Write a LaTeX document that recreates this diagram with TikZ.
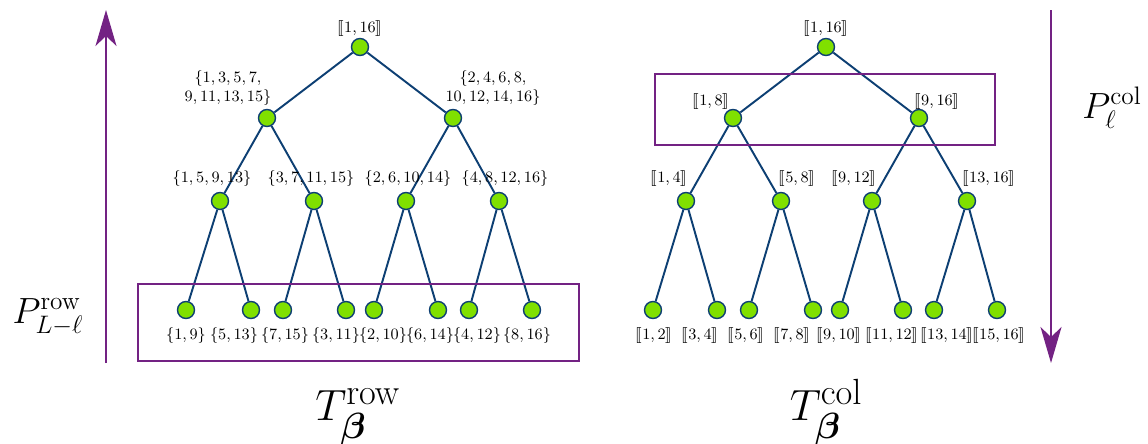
\documentclass[tikz,border=0pt]{standalone}
\usepackage{amsmath,amssymb}
\usepackage{stmaryrd}
\usepackage{tikz}
\usetikzlibrary{arrows.meta}
\usepackage{xcolor}
\definecolor{leafgreen}{RGB}{128, 224, 0}
\definecolor{edgeblue}{RGB}{13, 63, 115}
\definecolor{boxpurple}{RGB}{115, 34, 131}

\tikzset{
  vertex/.style={circle, fill=leafgreen, draw=edgeblue, line width=0.8pt,
    inner sep=0pt, minimum size=0.34cm},
  branch/.style={edgeblue, line width=1.1pt},
  setlbl/.style={font=\small, inner sep=0pt, anchor=base},
  levelbox/.style={boxpurple, line width=1.1pt},
  levelarrow/.style={boxpurple, line width=1.1pt,
    -{Stealth[length=0.72cm, width=0.42cm, inset=0.2cm]}},
}

\begin{document}
\begin{tikzpicture}[x=0.02cm, y=-0.02cm]
    \useasboundingbox (0,0) rectangle (1148,443);

    % row tree
    \node[vertex] (L0) at (360,47) {};
    \node[vertex] (L1a) at (267,118) {};
    \node[vertex] (L1b) at (453,118) {};
    \node[vertex] (L2a) at (220,201) {};
    \node[vertex] (L2b) at (314,201) {};
    \node[vertex] (L2c) at (406,201) {};
    \node[vertex] (L2d) at (499,201) {};
    \node[vertex] (L3a) at (186,310) {};
    \node[vertex] (L3b) at (251,310) {};
    \node[vertex] (L3c) at (283,310) {};
    \node[vertex] (L3d) at (346,310) {};
    \node[vertex] (L3e) at (374,310) {};
    \node[vertex] (L3f) at (438,310) {};
    \node[vertex] (L3g) at (469,310) {};
    \node[vertex] (L3h) at (532,310) {};
    \draw[branch] (L0) -- (L1a) (L0) -- (L1b)
      (L1a) -- (L2a) (L1a) -- (L2b) (L1b) -- (L2c) (L1b) -- (L2d)
      (L2a) -- (L3a) (L2a) -- (L3b) (L2b) -- (L3c) (L2b) -- (L3d)
      (L2c) -- (L3e) (L2c) -- (L3f) (L2d) -- (L3g) (L2d) -- (L3h);

    \node[setlbl] (tL0) at (360,32) {$\llbracket 1,16\rrbracket$};
    \node[font=\small, inner sep=0pt, align=center] (tL1a) at (228,88) {$\{1,3,5,7,$\\$9,11,13,15\}$};
    \node[font=\small, inner sep=0pt, align=center] (tL1b) at (493,88) {$\{2,4,6,8,$\\$10,12,14,16\}$};
    \node[setlbl] (tL2a) at (212,182) {$\{1,5,9,13\}$};
    \node[setlbl] (tL2b) at (311,182) {$\{3,7,11,15\}$};
    \node[setlbl] (tL2c) at (408,182) {$\{2,6,10,14\}$};
    \node[setlbl] (tL2d) at (505,182) {$\{4,8,12,16\}$};
    \node[setlbl] (tL3a) at (186,339) {$\{1,9\}$};
    \node[setlbl] (tL3b) at (234,339) {$\{5,13\}$};
    \node[setlbl] (tL3c) at (285,339) {$\{7,15\}$};
    \node[setlbl] (tL3d) at (336,339) {$\{3,11\}$};
    \node[setlbl] (tL3e) at (383,339) {$\{2,10\}$};
    \node[setlbl] (tL3f) at (430,339) {$\{6,14\}$};
    \node[setlbl] (tL3g) at (477,339) {$\{4,12\}$};
    \node[setlbl] (tL3h) at (527,339) {$\{8,16\}$};

    % column tree
    \node[vertex] (R0) at (826,47) {};
    \node[vertex] (R1a) at (733,118) {};
    \node[vertex] (R1b) at (919,118) {};
    \node[vertex] (R2a) at (686,201) {};
    \node[vertex] (R2b) at (781,201) {};
    \node[vertex] (R2c) at (872,201) {};
    \node[vertex] (R2d) at (967,201) {};
    \node[vertex] (R3a) at (653,310) {};
    \node[vertex] (R3b) at (717,310) {};
    \node[vertex] (R3c) at (749,310) {};
    \node[vertex] (R3d) at (813,310) {};
    \node[vertex] (R3e) at (840,310) {};
    \node[vertex] (R3f) at (903,310) {};
    \node[vertex] (R3g) at (934,310) {};
    \node[vertex] (R3h) at (997,310) {};
    \draw[branch] (R0) -- (R1a) (R0) -- (R1b)
      (R1a) -- (R2a) (R1a) -- (R2b) (R1b) -- (R2c) (R1b) -- (R2d)
      (R2a) -- (R3a) (R2a) -- (R3b) (R2b) -- (R3c) (R2b) -- (R3d)
      (R2c) -- (R3e) (R2c) -- (R3f) (R2d) -- (R3g) (R2d) -- (R3h);

    \node[setlbl] (tR0) at (826,32) {$\llbracket 1,16\rrbracket$};
    \node[setlbl] (tR1a) at (711,105) {$\llbracket 1,8\rrbracket$};
    \node[setlbl] (tR1b) at (937,105) {$\llbracket 9,16\rrbracket$};
    \node[setlbl] (tR2a) at (669,182) {$\llbracket 1,4\rrbracket$};
    \node[setlbl] (tR2b) at (797,182) {$\llbracket 5,8\rrbracket$};
    \node[setlbl] (tR2c) at (854,182) {$\llbracket 9,12\rrbracket$};
    \node[setlbl] (tR2d) at (989,182) {$\llbracket 13,16\rrbracket$};
    \node[setlbl] (tR3a) at (654,339) {$\llbracket 1,2\rrbracket$};
    \node[setlbl] (tR3b) at (700,339) {$\llbracket 3,4\rrbracket$};
    \node[setlbl] (tR3c) at (746,339) {$\llbracket 5,6\rrbracket$};
    \node[setlbl] (tR3d) at (792,339) {$\llbracket 7,8\rrbracket$};
    \node[setlbl] (tR3e) at (839,339) {$\llbracket 9,10\rrbracket$};
    \node[setlbl] (tR3f) at (892,339) {$\llbracket 11,12\rrbracket$};
    \node[setlbl] (tR3g) at (947,339) {$\llbracket 13,14\rrbracket$};
    \node[setlbl] (tR3h) at (999,339) {$\llbracket 15,16\rrbracket$};

    % level boxes
    \draw[levelbox] (138,284) rectangle (579,361);
    \draw[levelbox] (655,74) rectangle (995,145);

    % level arrows
    \coordinate (rowfoot) at (106,363);
    \coordinate (rowtip) at (106,10);
    \coordinate (colfoot) at (1051,10);
    \coordinate (coltip) at (1051,363);
    \draw[levelarrow] (rowfoot) -- (rowtip);
    \draw[levelarrow] (colfoot) -- (coltip);
    \node[font=\fontsize{21}{25}\selectfont, inner sep=0pt, anchor=base] (prow) at (48,323) {$P^{\mathrm{row}}_{L-\ell}$};
    \node[font=\fontsize{21}{25}\selectfont, inner sep=0pt, anchor=base] (pcol) at (1112,118) {$P^{\mathrm{col}}_{\ell}$};

    % tree names
    \node[font=\fontsize{31}{37}\selectfont, inner sep=0pt, anchor=base] (trow) at (358,420) {$T^{\mathrm{row}}_{\boldsymbol{\beta}}$};
    \node[font=\fontsize{31}{37}\selectfont, inner sep=0pt, anchor=base] (tcol) at (826,420) {$T^{\mathrm{col}}_{\boldsymbol{\beta}}$};
\end{tikzpicture}
\end{document}
